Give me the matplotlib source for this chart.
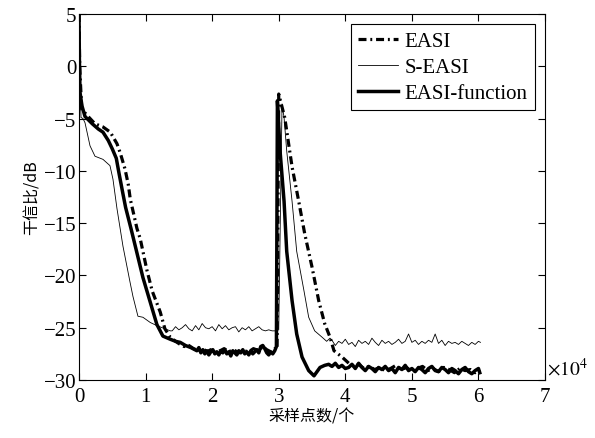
import matplotlib
matplotlib.use("Agg")
import matplotlib.pyplot as plt

# x in units of 1e4 samples, y in dB
easi_x = [0.0, 0.01, 0.04, 0.13, 0.24, 0.36, 0.47, 0.57, 0.62, 0.69, 0.74, 0.77,
          0.87, 0.92, 1.02, 1.10, 1.22, 1.29, 1.37, 1.45, 1.52, 1.58, 1.65, 1.72,
          1.80, 1.86, 1.92, 1.98, 2.05, 2.12, 2.18, 2.25, 2.32, 2.40, 2.47, 2.55,
          2.62, 2.70, 2.76, 2.82, 2.88, 2.94, 2.975,
          2.99, 3.00, 3.09, 3.20, 3.30, 3.39, 3.50, 3.60, 3.69, 3.77, 3.83, 3.95,
          4.07, 4.14, 4.20, 4.28, 4.36, 4.44, 4.52, 4.60, 4.68, 4.76, 4.84,
          4.92, 5.00, 5.08, 5.16, 5.24, 5.32, 5.40, 5.48, 5.56, 5.64, 5.72, 5.80,
          5.88, 5.95, 6.02]
easi_y = [5.0, 0.0, -4.1, -4.75, -5.5, -5.8, -6.3, -7.4, -8.3, -9.8, -11.3, -12.7,
          -15.5, -16.5, -19.5, -21.5, -23.5, -25.1, -25.9, -26.3, -26.6, -26.8, -26.7, -27.0,
          -27.2, -27.0, -27.3, -27.1, -27.4, -27.2, -27.0, -27.3, -27.1, -27.4, -27.2, -27.3,
          -27.0, -27.2, -26.8, -27.1, -27.3, -27.0, -27.1,
          -12.0, -2.65, -4.9, -9.6, -12.9, -16.0, -19.2, -22.4, -24.6, -25.9, -27.2, -27.8,
          -28.5, -28.7, -28.5, -28.9, -28.7, -29.0, -28.8, -29.1, -28.9, -28.6, -29.0,
          -28.8, -29.2, -28.9, -28.7, -29.1, -28.9, -29.2, -28.8, -29.0, -29.3, -28.9, -29.1,
          -29.0, -29.3, -29.0]

seasi_x = [0.0, 0.03, 0.06, 0.09, 0.165, 0.24, 0.36, 0.465, 0.51, 0.57, 0.66, 0.765, 0.81,
           0.885, 0.96, 1.07, 1.17, 1.37,
           1.40, 1.45, 1.50, 1.55, 1.60, 1.65, 1.70, 1.75, 1.80, 1.85, 1.90, 1.95,
           2.00, 2.05, 2.10, 2.15, 2.20, 2.25, 2.30, 2.35, 2.40, 2.45, 2.50, 2.55,
           2.60, 2.65, 2.70, 2.75, 2.80, 2.85, 2.90, 2.95, 3.0, 3.03,
           3.05, 3.08, 3.12, 3.20, 3.27, 3.38, 3.45, 3.54, 3.65, 3.72,
           3.77, 3.80, 3.85, 3.90, 3.95, 4.00, 4.05, 4.10, 4.15, 4.20, 4.25, 4.30,
           4.35, 4.40, 4.45, 4.50, 4.55, 4.60, 4.65, 4.70, 4.75, 4.80, 4.85, 4.90,
           4.95, 5.00, 5.05, 5.10, 5.15, 5.20, 5.25, 5.30, 5.35, 5.40, 5.45, 5.50,
           5.55, 5.60, 5.65, 5.70, 5.75, 5.80, 5.85, 5.90, 5.95, 6.00, 6.03]
seasi_y = [2.0, -4.9, -5.0, -5.4, -7.6, -8.6, -8.9, -9.5, -10.8, -13.6, -17.2, -20.6, -22.0,
           -23.9, -24.0, -24.5, -24.8, -25.3,
           -25.3, -24.9, -25.2, -25.0, -24.7, -25.1, -25.3, -24.8, -25.2, -24.6, -25.0, -25.1,
           -24.9, -25.3, -24.7, -25.1, -24.8, -25.2, -25.0, -24.9, -25.4, -25.0, -25.2, -24.9,
           -25.3, -25.1, -24.9, -25.2, -25.3, -25.2, -25.3, -25.3, -25.2, -12.0,
           -3.6, -4.9, -8.1, -12.9, -17.7, -21.5, -24.0, -25.3, -25.9, -26.3,
           -26.0, -26.2, -26.7, -26.3, -26.5, -26.1, -26.6, -26.4, -26.8, -26.2, -26.5, -26.3,
           -26.6, -26.0, -26.4, -26.7, -26.2, -26.5, -26.3, -26.6, -26.4, -26.1, -26.5, -26.3,
           -25.6, -26.4, -26.2, -26.6, -26.3, -26.5, -26.2, -26.4, -25.6, -26.5, -26.2, -26.7,
           -26.3, -26.5, -26.4, -26.6, -26.3, -26.5, -26.7, -26.4, -26.6, -26.3, -26.4]

func_x = [0.0, 0.005, 0.015, 0.045, 0.09, 0.2, 0.29, 0.36, 0.44, 0.5, 0.56, 0.6,
          0.66, 0.7, 0.78, 0.83, 0.96, 1.1, 1.17, 1.26, 1.37, 1.45, 1.52, 1.60,
          1.68, 1.77, 1.80, 1.83, 1.86, 1.89, 1.92, 1.95, 1.98, 2.01, 2.04, 2.07,
          2.10, 2.13, 2.16, 2.19, 2.22, 2.25, 2.28, 2.31, 2.34, 2.37, 2.40, 2.43,
          2.46, 2.49, 2.52, 2.55, 2.58, 2.61, 2.64, 2.67, 2.70, 2.73, 2.76, 2.79,
          2.82, 2.85, 2.88, 2.91, 2.94, 2.965,
          2.98, 3.02, 3.08, 3.12, 3.20, 3.27, 3.35, 3.45, 3.53, 3.62, 3.69, 3.75,
          3.80, 3.85, 3.90, 3.95, 4.00, 4.05, 4.10, 4.15, 4.20, 4.25, 4.30, 4.35,
          4.40, 4.45, 4.50, 4.55, 4.60, 4.65, 4.70, 4.75, 4.80, 4.85, 4.90, 4.95,
          5.00, 5.05, 5.10, 5.15, 5.20, 5.25, 5.30, 5.35, 5.40, 5.45, 5.50, 5.55,
          5.60, 5.65, 5.70, 5.75, 5.80, 5.85, 5.90, 5.95, 6.00, 6.02]
func_y = [5.0, 1.0, -2.5, -3.8, -4.8, -5.5, -6.0, -6.3, -7.1, -7.9, -8.8, -10.2,
          -12.2, -13.5, -15.5, -16.8, -20.2, -23.2, -24.7, -25.8, -26.1, -26.3, -26.4, -26.7,
          -26.9, -27.2, -26.9, -27.4, -27.1, -27.5, -27.2, -27.6, -27.3, -27.1, -27.5, -27.3,
          -27.6, -27.2, -27.4, -27.1, -27.5, -27.3, -27.7, -27.2, -27.4, -27.6, -27.2, -27.4,
          -27.1, -27.5, -27.3, -27.6, -27.2, -27.5, -27.3, -27.1, -27.4, -26.8, -26.7, -27.0,
          -27.4, -27.6, -27.3, -27.5, -27.2, -26.8,
          -3.3, -8.1, -12.9, -17.7, -22.4, -25.6, -27.8, -29.1, -29.6, -28.8, -28.6, -28.5,
          -28.7, -28.4, -28.8, -28.6, -28.9, -28.8, -28.5, -28.9, -28.4, -28.8, -29.1, -28.7,
          -28.9, -29.2, -28.8, -29.0, -28.7, -29.1, -28.9, -29.3, -28.8, -29.0, -28.6, -29.1,
          -28.9, -29.2, -28.8, -29.0, -29.3, -28.9, -28.7, -29.1, -29.2, -28.8, -29.0, -29.3,
          -28.9, -29.1, -29.4, -29.0, -28.8, -29.2, -29.4, -29.1, -28.9, -29.3]

x_ticks = [0, 1, 2, 3, 4, 5, 6, 7]
y_ticks = [5, 0, -5, -10, -15, -20, -25, -30]

plt.rcParams.update({
    "font.family": ["Liberation Serif", "Noto Sans CJK SC"],
    "mathtext.fontset": "stix",
    "xtick.direction": "in",
    "ytick.direction": "in",
    "xtick.top": True,
    "ytick.right": True,
    "xtick.major.size": 5,
    "ytick.major.size": 5,
})

fig = plt.figure(figsize=(5.95, 4.39), dpi=100)
ax = fig.add_axes([0.1328, 0.1321, 0.7832, 0.8337])

ax.plot(easi_x, easi_y, color="black", lw=2.3, linestyle=(0, (2.5, 1.2, 0.6, 1.2)), label="EASI")
ax.plot(seasi_x, seasi_y, color="black", lw=0.6, label="S-EASI")
ax.plot(func_x, func_y, color="black", lw=2.5, label="EASI-function")

ax.set_xlim(0, 7)
ax.set_ylim(-30, 5)
ax.set_xticks(x_ticks)
ax.set_yticks(y_ticks)
ax.tick_params(labelsize=15, width=0.8)
ax.tick_params(axis="x", pad=5)
ax.tick_params(axis="y", pad=2)
for s in ax.spines.values():
    s.set_linewidth(0.8)

ax.set_xlabel("采样点数/个", family=["Noto Sans CJK SC"], fontsize=11.5, labelpad=1)
ax.set_ylabel("干信比/dB", family=["Noto Sans CJK SC"], fontsize=11.5, labelpad=2)
ax.text(1.005, 0.035, r"$\times 10^{4}$", transform=ax.transAxes, fontsize=14,
        ha="left", va="center")

leg = ax.legend(loc="upper right", fontsize=15, frameon=True, fancybox=False,
                edgecolor="black", framealpha=1, handlelength=1.9, handletextpad=0.3,
                borderpad=0.35, labelspacing=0.3, borderaxespad=0.5)
leg.get_frame().set_linewidth(0.8)

fig.savefig("out.png", dpi=100)
